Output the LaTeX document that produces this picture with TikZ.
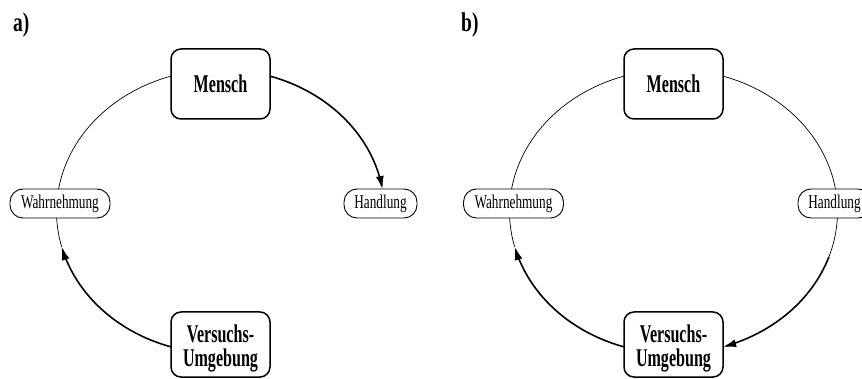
\documentclass[tikz,border=0pt]{standalone}
\usepackage{fontspec}
\setmainfont{Liberation Serif}
\newfontfamily\bigf[FakeStretch=0.63]{Liberation Serif}
\newfontfamily\labf[FakeStretch=0.72]{Liberation Serif}
\newfontfamily\smallf[FakeStretch=0.68]{Liberation Serif}
\usetikzlibrary{arrows.meta}
\begin{document}
\begin{tikzpicture}[x=1pt,y=-1pt,
  bigbox/.style={draw, line width=1.5pt, rounded corners=10pt, minimum width=99pt, inner sep=0pt},
  bigtext/.style={font=\bigf\bfseries\fontsize{25.5}{24.5}\selectfont, align=center, inner sep=0pt},
  smallbox/.style={draw, line width=0.9pt, rounded corners=13pt, minimum height=29pt, inner sep=0pt, font=\smallf\fontsize{19.5}{20}\selectfont},
  arcthin/.style={line width=0.7pt},
  arcthick/.style={line width=1.6pt, -{Latex[length=13pt,width=8pt]}},
  lab/.style={font=\labf\bfseries\fontsize{27}{27}\selectfont, anchor=base west, inner sep=0pt}
]
\useasboundingbox (0,0) rectangle (862,379);
\clip (0,0) rectangle (862,379);

% ---------- panel a ----------
\node[lab] (la) at (13,32) {a)};
\node[bigbox, minimum height=70pt, bigtext] (ma) at (220.5,84) {Mensch};
\node[bigbox, minimum height=65pt] (va) at (220.5,344.5) {};
\node[bigtext] (vat) at ([yshift=-4pt]va.center) {Versuchs-\\Umgebung};
\node[smallbox, minimum width=100pt] (wa) at (60,203.5) {Wahrnehmung};
\node[smallbox, minimum width=73pt] (ha) at (380.5,203.5) {Handlung};

\draw[arcthin] plot[domain=189.1:252.4, samples=50, variable=\t] ({220.5+164*cos(\t)},{211.5+142*sin(\t)});
\draw[arcthick] plot[domain=-72.4:-9.1, samples=50, variable=\t] ({220.5+164*cos(\t)},{211.5+142*sin(\t)});
\draw[arcthin] plot[domain=165.5:177.4, samples=20, variable=\t] ({220.5+164*cos(\t)},{211.5+142*sin(\t)});
\draw[arcthick] plot[domain=107.6:165.5, samples=50, variable=\t] ({220.5+164*cos(\t)},{211.5+142*sin(\t)});

% ---------- panel b ----------
\node[lab] (lb) at (461,32) {b)};
\node[bigbox, minimum height=70pt, bigtext] (mb) at (673.5,84) {Mensch};
\node[bigbox, minimum height=65pt] (vb) at (673.5,344.5) {};
\node[bigtext] (vbt) at ([yshift=-4pt]vb.center) {Versuchs-\\Umgebung};
\node[smallbox, minimum width=100pt] (wb) at (513.5,203.5) {Wahrnehmung};
\node[smallbox, minimum width=73pt] (hb) at (834.5,203.5) {Handlung};

\draw[arcthin] plot[domain=189.1:252.4, samples=50, variable=\t] ({673.5+164*cos(\t)},{211.5+142*sin(\t)});
\draw[arcthin] plot[domain=-72.4:-9.1, samples=50, variable=\t] ({673.5+164*cos(\t)},{211.5+142*sin(\t)});
\draw[arcthin] plot[domain=2.6:18.7, samples=20, variable=\t] ({673.5+164*cos(\t)},{211.5+142*sin(\t)});
\draw[arcthick] plot[domain=18.7:72.4, samples=50, variable=\t] ({673.5+164*cos(\t)},{211.5+142*sin(\t)});
\draw[arcthin] plot[domain=165.5:177.4, samples=20, variable=\t] ({673.5+164*cos(\t)},{211.5+142*sin(\t)});
\draw[arcthick] plot[domain=107.6:165.5, samples=50, variable=\t] ({673.5+164*cos(\t)},{211.5+142*sin(\t)});
\end{tikzpicture}
\end{document}
